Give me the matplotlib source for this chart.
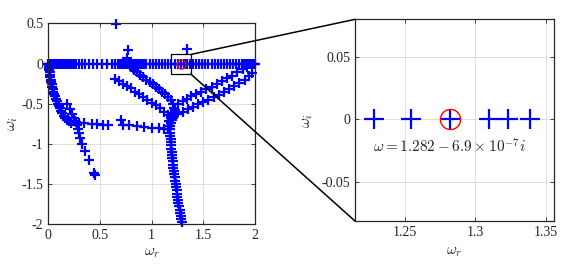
import numpy as np
import matplotlib.pyplot as plt
from matplotlib.patches import Rectangle, ConnectionPatch

plt.rcParams['font.family'] = 'Liberation Serif'
plt.rcParams['mathtext.fontset'] = 'cm'

# eigenvalues on the real axis
real_x = [0.0, 0.01, 0.02, 0.03, 0.04, 0.05, 0.06, 0.07, 0.08, 0.09, 0.10, 0.11, 0.12,
          0.13, 0.15, 0.17, 0.19, 0.21, 0.23, 0.25, 0.27, 0.30, 0.33, 0.36, 0.39, 0.43,
          0.47, 0.52, 0.57, 0.62, 0.65, 0.67, 0.69, 0.71, 0.73, 0.75, 0.77, 0.79, 0.81,
          0.83, 0.85, 0.87, 0.89, 0.91, 0.93, 0.95, 0.98, 1.01, 1.04, 1.07, 1.10, 1.13,
          1.16, 1.19, 1.228, 1.254, 1.282, 1.310, 1.323, 1.339, 1.37, 1.40, 1.43, 1.46,
          1.49, 1.52, 1.55, 1.58, 1.61, 1.64, 1.67, 1.70, 1.73, 1.76, 1.79, 1.82, 1.85,
          1.87, 1.89, 1.91, 1.93, 1.95, 1.96, 1.97, 1.98, 1.99, 2.0]
real_y = [0.0] * len(real_x)

# curve leaving the origin
arc_x = [0.003, 0.005, 0.008, 0.010, 0.013, 0.016, 0.020, 0.024, 0.028, 0.033, 0.038,
         0.044, 0.050, 0.057, 0.064, 0.072, 0.080, 0.090, 0.100, 0.110, 0.120, 0.135,
         0.150, 0.165, 0.180, 0.200, 0.220]
arc_y = [-0.01, -0.03, -0.05, -0.08, -0.11, -0.14, -0.17, -0.20, -0.23, -0.26, -0.29,
         -0.32, -0.35, -0.38, -0.41, -0.44, -0.47, -0.50, -0.53, -0.56, -0.59, -0.62,
         -0.65, -0.68, -0.70, -0.72, -0.74]

# branch down to (0.45, -1.38)
low_x = [0.18, 0.21, 0.23, 0.25, 0.26, 0.275, 0.285, 0.295, 0.31, 0.33, 0.36, 0.39, 0.44, 0.45]
low_y = [-0.51, -0.57, -0.63, -0.68, -0.72, -0.77, -0.82, -0.87, -0.93, -1.0, -1.09,
         -1.2, -1.37, -1.39]

# nearly horizontal branch
hor_x = [0.27, 0.30, 0.35, 0.42, 0.47, 0.53, 0.58, 0.70, 0.72, 0.78, 0.86, 0.93, 1.0,
         1.07, 1.12, 1.16]
hor_y = [-0.73, -0.74, -0.74, -0.75, -0.75, -0.76, -0.76, -0.70, -0.77, -0.77, -0.78,
         -0.79, -0.80, -0.80, -0.81, -0.81]

# vertical branch near 1.2
vert_x = [1.20, 1.19, 1.18, 1.18, 1.18, 1.18, 1.185, 1.185, 1.19, 1.19, 1.195, 1.20,
          1.20, 1.205, 1.21, 1.21, 1.215, 1.22, 1.225, 1.23, 1.235, 1.24, 1.245, 1.25,
          1.25, 1.255, 1.26, 1.265, 1.27, 1.275, 1.28, 1.285, 1.29]
vert_y = [-0.70, -0.74, -0.78, -0.82, -0.86, -0.90, -0.94, -0.98, -1.02, -1.06, -1.10,
          -1.14, -1.18, -1.22, -1.26, -1.30, -1.34, -1.38, -1.42, -1.46, -1.50, -1.54,
          -1.58, -1.62, -1.66, -1.70, -1.74, -1.78, -1.82, -1.86, -1.90, -1.94, -1.98]

# diagonals running down-right into the junction
diag_a_x = [0.645, 0.68, 0.72, 0.76, 0.80, 0.84, 0.88, 0.92, 0.96, 1.00, 1.04, 1.08,
            1.12, 1.16, 1.19]
diag_a_y = [-0.19, -0.22, -0.25, -0.28, -0.31, -0.35, -0.38, -0.42, -0.45, -0.49,
            -0.52, -0.56, -0.60, -0.64, -0.68]
diag_b_x = [0.80, 0.83, 0.86, 0.89, 0.92, 0.95, 0.98, 1.01, 1.04, 1.07, 1.10, 1.13,
            1.16, 1.19, 1.21]
diag_b_y = [-0.04, -0.08, -0.11, -0.14, -0.17, -0.20, -0.23, -0.26, -0.29, -0.32,
            -0.35, -0.38, -0.42, -0.46, -0.50]

# diagonals running up-right out of the junction
diag_c_x = [1.22, 1.26, 1.30, 1.34, 1.38, 1.43, 1.48, 1.53, 1.58, 1.63, 1.68, 1.73,
            1.78, 1.83, 1.88, 1.92]
diag_c_y = [-0.55, -0.50, -0.47, -0.44, -0.41, -0.38, -0.35, -0.32, -0.29, -0.25,
            -0.22, -0.18, -0.15, -0.11, -0.07, -0.04]
diag_d_x = [1.22, 1.25, 1.30, 1.35, 1.40, 1.45, 1.50, 1.55, 1.60, 1.65, 1.70, 1.75,
            1.80, 1.85, 1.90, 1.94, 1.97]
diag_d_y = [-0.66, -0.63, -0.60, -0.57, -0.54, -0.51, -0.48, -0.45, -0.42, -0.39,
            -0.36, -0.32, -0.28, -0.24, -0.20, -0.16, -0.12]

# isolated points
iso_x = [0.66, 0.774, 0.764, 1.338, 1.17, 1.20, 1.23, 1.19]
iso_y = [0.49, 0.167, 0.064, 0.176, -0.72, -0.62, -0.58, -0.66]

# highlighted mode
mode_x = 1.282
mode_y = -6.9e-7

# zoom window
box_x = [1.187, 1.38]
box_y = [-0.132, 0.113]

all_x = np.concatenate([real_x, arc_x, low_x, hor_x, vert_x, diag_a_x, diag_b_x,
                        diag_c_x, diag_d_x, iso_x])
all_y = np.concatenate([real_y, arc_y, low_y, hor_y, vert_y, diag_a_y, diag_b_y,
                        diag_c_y, diag_d_y, iso_y])

fig = plt.figure(figsize=(5.81, 2.65), dpi=100)
ax1 = fig.add_axes([0.0831, 0.1547, 0.3557, 0.757])
ax2 = fig.add_axes([0.611, 0.166, 0.3425, 0.761])

blue = '#0000ff'
for ax in (ax1, ax2):
    ax.grid(True, color='#d9d9d9', linewidth=0.6)
    ax.set_axisbelow(True)
    ax.tick_params(direction='in', top=True, right=True, length=3, width=0.6,
                   labelsize=10, colors='#262626')
    for s in ax.spines.values():
        s.set_linewidth(0.9)
        s.set_color('#262626')

# left panel
ax1.plot(all_x, all_y, '+', color=blue, ms=7, mew=1.6, clip_on=False)
ax1.plot(mode_x, mode_y, 'o', mfc='none', mec='red', ms=6.5, mew=1.0)
ax1.add_patch(Rectangle((box_x[0], box_y[0]), box_x[1] - box_x[0], box_y[1] - box_y[0],
                        fill=False, edgecolor='black', linewidth=0.9, zorder=5))
ax1.set_xlim(0, 2)
ax1.set_ylim(-2, 0.5)
ax1.set_xticks([0, 0.5, 1, 1.5, 2])
ax1.set_xticklabels(['0', '0.5', '1', '1.5', '2'])
ax1.set_yticks([0.5, 0, -0.5, -1, -1.5, -2])
ax1.set_yticklabels(['0.5', '0', '-0.5', '-1', '-1.5', '-2'])
ax1.set_xlabel(r'$\omega_r$', fontsize=11, color='#262626', labelpad=3)
ax1.set_ylabel(r'$\omega_i$', fontsize=11, color='#262626', labelpad=1)

# right panel (zoom)
ax2.plot(all_x, all_y, '+', color=blue, ms=14, mew=1.6)
ax2.plot(mode_x, mode_y, 'o', mfc='none', mec='red', ms=14.5, mew=1.0)
ax2.set_xlim(1.2145, 1.356)
ax2.set_ylim(-0.0815, 0.0798)
ax2.set_xticks([1.25, 1.3, 1.35])
ax2.set_xticklabels(['1.25', '1.3', '1.35'])
ax2.set_yticks([0.05, 0, -0.05])
ax2.set_yticklabels(['0.05', '0', '-0.05'])
ax2.set_xlabel(r'$\omega_r$', fontsize=11, color='#262626', labelpad=5)
ax2.set_ylabel(r'$\omega_i$', fontsize=11, color='#262626', labelpad=5)
ax2.text(1.2815, -0.022, r'$\omega = 1.282 - 6.9 \times 10^{-7} i$', fontsize=11,
         ha='center', va='center', color='#262626')

# connector lines
for yb, yt in ((box_y[1], 1), (box_y[0], 0)):
    con = ConnectionPatch(xyA=(box_x[1], yb), coordsA=ax1.transData,
                          xyB=(0, yt), coordsB=ax2.transAxes,
                          color='black', linewidth=1.1)
    fig.add_artist(con)

fig.savefig('out.png', dpi=100)
